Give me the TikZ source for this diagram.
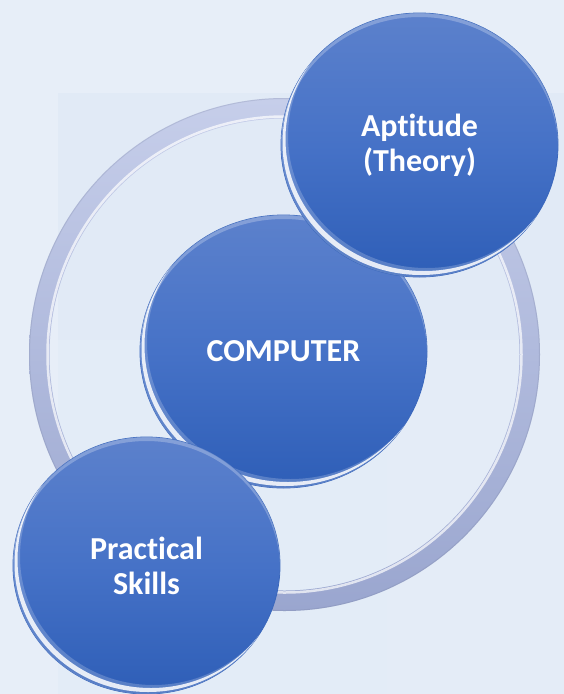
\documentclass[tikz,border=0pt]{standalone}
\usepackage{fontspec}
\setmainfont{Carlito}[Ligatures={NoCommon,NoRequired,NoContextual}]
\usetikzlibrary{shapes.geometric}
\definecolor{bgA}{HTML}{E7EEF8}
\definecolor{bgB}{HTML}{E1EAF6}
\definecolor{bgC}{HTML}{E3ECF7}
\definecolor{ballTop}{HTML}{5C81CC}
\definecolor{ballMid}{HTML}{4672C7}
\definecolor{ballBot}{HTML}{2E5EB7}
\definecolor{ballRim}{HTML}{3A67BC}
\definecolor{ringTop}{HTML}{C6CEEA}
\definecolor{ringBot}{HTML}{9AA6CF}
\tikzset{
  ball/.style={ellipse, inner sep=0pt, draw=ballRim, line width=0.8pt,
    top color=ballTop, bottom color=ballBot, middle color=ballMid,
    text=white, font=\bfseries\fontsize{32}{35}\selectfont, align=center},
}
\newcommand{\ballglow}[3]{% center, rx, ry
  \begin{scope}
    \clip (#1) ellipse ({#2} and {#3});
    \fill[white, opacity=0.2, even odd rule] ([shift={(-200,-200)}]#1) rectangle ([shift={(200,200)}]#1) ([shift={(7,-9)}]#1) ellipse ({#2} and {#3});
    \fill[white, opacity=0.25, even odd rule] ([shift={(-200,-200)}]#1) rectangle ([shift={(200,200)}]#1) ([shift={(0,4)}]#1) ellipse ({#2} and {#3});
    \clip ([shift={(1.5,-2)}]#1) ellipse ({#2} and {#3});
    \fill[white, opacity=0.85, even odd rule] ([shift={(-200,-200)}]#1) rectangle ([shift={(200,200)}]#1) ([shift={(4.5,-6)}]#1) ellipse ({#2} and {#3});
  \end{scope}}
\begin{document}
\begin{tikzpicture}[x=1pt,y=-1pt]
  \useasboundingbox (0,0) rectangle (564,694);
  % background
  \fill[bgA] (0,0) rectangle (564,694);
  \fill[bgB] (58,93) rectangle (564,694);
  \fill[bgC] (58,340) rectangle (387,694);
  \fill[bgA!60!bgB] (387,340) rectangle (564,694);
  % ring
  \coordinate (rc) at (284.5,354.5);
  \shade[top color=ringTop, bottom color=ringBot, even odd rule]
    (rc) ellipse (255.5 and 256.5) (rc) ellipse (235 and 236);
  \draw[white, opacity=0.7, line width=2.5pt] (rc) ellipse (237 and 238);
  \draw[ringBot!80!black, opacity=0.25, line width=1pt] (rc) ellipse (255 and 256);
  % balls
  \node[ball, minimum width=287, minimum height=273] (comp) at (283.5,351.5) {COMPUTER};
  \ballglow{comp.center}{143.5}{136.5}
  \node[ball, minimum width=277, minimum height=264] (apt) at (419.5,145) {Aptitude\\(Theory)};
  \ballglow{apt.center}{138.5}{132}
  \node[ball, minimum width=267, minimum height=257] (prac) at (146.5,565.5) {Practical\\Skills};
  \ballglow{prac.center}{133.5}{128.5}
\end{tikzpicture}
\end{document}
